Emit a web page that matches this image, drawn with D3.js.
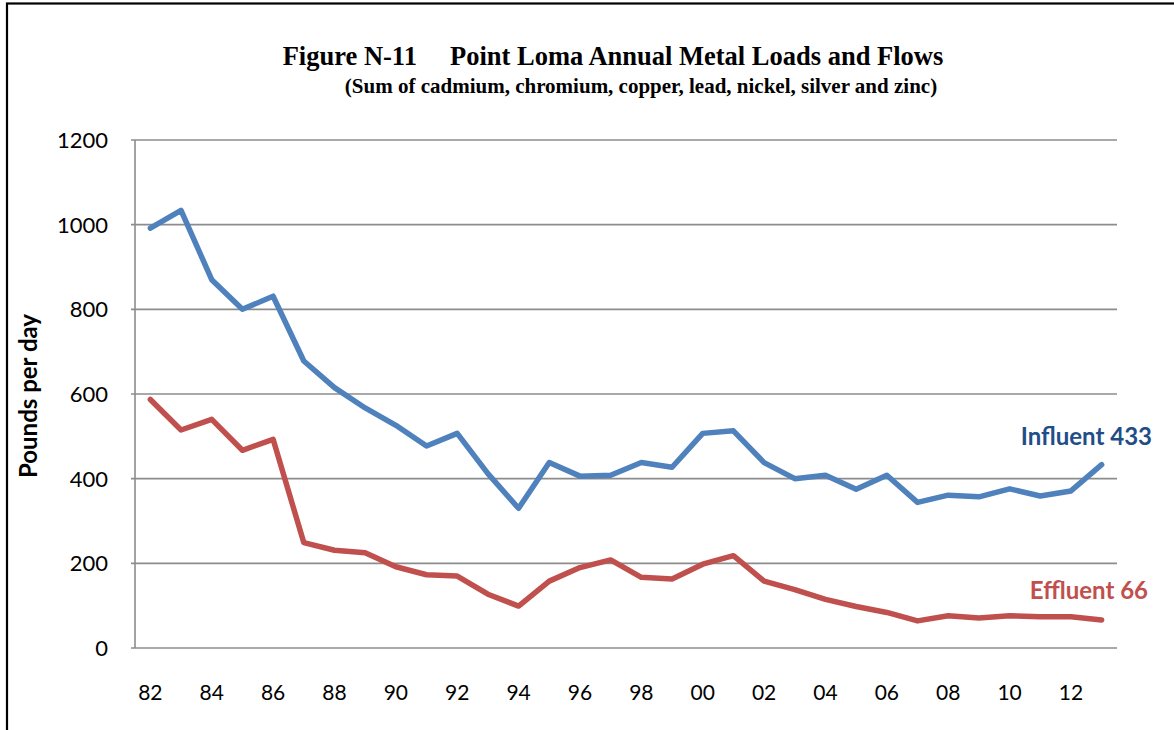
<!DOCTYPE html>
<html>
<head>
<meta charset="utf-8">
<script src="https://cdn.jsdelivr.net/npm/d3@7"></script>
<style>
html,body{margin:0;padding:0;background:#fff;}
svg{display:block;}
</style>
</head>
<body>
<svg id="chart" width="1174" height="730"></svg>
<script>
const years = d3.range(1982, 2014);
const influent = [992,1034,870,800,831,678,615,567,526,477,507,412,330,438,406,408,438,427,507,513,438,400,408,375,408,344,361,357,376,359,371,433];
const effluent = [587,515,540,467,493,249,231,225,192,173,170,127,99,158,190,208,167,163,198,218,158,138,115,98,84,64,76,71,76,74,74,66];
const yTicks = [0,200,400,600,800,1000,1200];
const xTickYears = years.filter(v => v % 2 === 0);

(function(){
const svg = d3.select("#chart");

// outer frame
svg.append("rect").attr("x",7).attr("y",3.5).attr("width",1200).attr("height",800)
  .attr("fill","none").attr("stroke","#000").attr("stroke-width",2.2);

const pLeft = 135, pRight = 1117, pTop = 140, pBottom = 648;
const x = d3.scaleBand().domain(years).range([pLeft, pRight]);
const y = d3.scaleLinear().domain([0,1200]).range([pBottom, pTop]);
const cx = d => x(d) + x.bandwidth()/2;

// gridlines
svg.append("g").selectAll("line").data(yTicks).join("line")
  .attr("x1", pLeft-4).attr("x2", pRight)
  .attr("y1", d=>y(d)).attr("y2", d=>y(d))
  .attr("stroke","#8c8c8c").attr("stroke-width",1.6);
// y axis line
svg.append("line").attr("x1",pLeft).attr("x2",pLeft).attr("y1",pTop).attr("y2",pBottom)
  .attr("stroke","#8c8c8c").attr("stroke-width",1.6);

// y tick labels
svg.append("g").selectAll("text").data(yTicks).join("text")
  .attr("x", 108).attr("y", d=>y(d)).attr("dy","0.36em")
  .attr("text-anchor","end")
  .attr("font-family","Lato, 'Open Sans', sans-serif").attr("font-size",22)
  .attr("fill","#000").text(d=>d);

// x tick labels
svg.append("g").selectAll("text").data(xTickYears).join("text")
  .attr("x", d=>cx(d)).attr("y", 700)
  .attr("text-anchor","middle")
  .attr("font-family","Lato, 'Open Sans', sans-serif").attr("font-size",21)
  .attr("fill","#000").text(d=>String(d%100).padStart(2,"0"));

// y axis title
svg.append("text").attr("transform","translate(37,396) rotate(-90)")
  .attr("text-anchor","middle")
  .attr("font-family","Lato, 'Open Sans', sans-serif").attr("font-weight","bold").attr("font-size",24)
  .attr("fill","#000").text("Pounds per day");

// lines
const line = d3.line().x((d,i)=>cx(years[i])).y(d=>y(d));
svg.append("path").datum(effluent).attr("d",line)
  .attr("fill","none").attr("stroke","#C0504D").attr("stroke-width",5.5)
  .attr("stroke-linejoin","round").attr("stroke-linecap","round");
svg.append("path").datum(influent).attr("d",line)
  .attr("fill","none").attr("stroke","#4F81BD").attr("stroke-width",5.5)
  .attr("stroke-linejoin","round").attr("stroke-linecap","round");

// end labels
svg.append("text").attr("x",1152).attr("y",445).attr("text-anchor","end")
  .attr("font-family","Lato, 'Open Sans', sans-serif").attr("font-weight","bold").attr("font-size",24)
  .attr("fill","#1F4E87").text("Influent " + influent[influent.length-1]);
svg.append("text").attr("x",1148).attr("y",599).attr("text-anchor","end")
  .attr("font-family","Lato, 'Open Sans', sans-serif").attr("font-weight","bold").attr("font-size",24)
  .attr("fill","#C0504D").text("Effluent " + effluent[effluent.length-1]);

// titles
svg.append("text").attr("x",613).attr("y",65).attr("text-anchor","middle")
  .attr("font-family","'Liberation Serif', 'Times New Roman', serif").attr("font-weight","bold").attr("font-size",26.5)
  .attr("fill","#000").attr("xml:space","preserve")
  .text("Figure N-11     Point Loma Annual Metal Loads and Flows");
svg.append("text").attr("x",641).attr("y",93).attr("text-anchor","middle")
  .attr("font-family","'Liberation Serif', 'Times New Roman', serif").attr("font-weight","bold").attr("font-size",21)
  .attr("fill","#000")
  .text("(Sum of cadmium, chromium, copper, lead, nickel, silver and zinc)");
})();
</script>
</body>
</html>
